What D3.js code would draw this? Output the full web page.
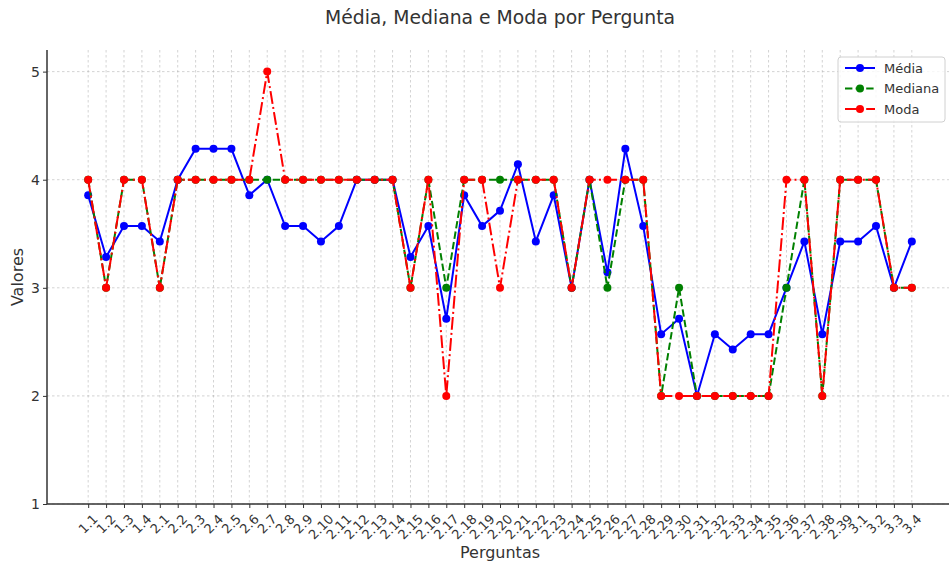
<!DOCTYPE html>
<html><head><meta charset="utf-8">
<script src="https://cdn.jsdelivr.net/npm/d3@7"></script>
<style>
html,body{margin:0;padding:0;background:#fff;}
svg{display:block;font-family:"DejaVu Sans",sans-serif;}
</style></head>
<body>
<svg id="chart" width="949" height="564"></svg>
<script>
const categories = ["1.1","1.2","1.3","1.4","2.1","2.2","2.3","2.4","2.5","2.6","2.7","2.8","2.9","2.10","2.11","2.12","2.13","2.14","2.15","2.16","2.17","2.18","2.19","2.20","2.21","2.22","2.23","2.24","2.25","2.26","2.27","2.28","2.29","2.30","2.31","2.32","2.33","2.34","2.35","2.36","2.37","2.38","2.39","3.1","3.2","3.3","3.4"];
const media = [3.857,3.286,3.571,3.571,3.429,4.0,4.286,4.286,4.286,3.857,4.0,3.571,3.571,3.429,3.571,4.0,4.0,4.0,3.286,3.571,2.714,3.857,3.571,3.714,4.143,3.429,3.857,3.0,4.0,3.143,4.286,3.571,2.571,2.714,2.0,2.571,2.429,2.571,2.571,3.0,3.429,2.571,3.429,3.429,3.571,3.0,3.429];
const mediana = [4,3,4,4,3,4,4,4,4,4,4,4,4,4,4,4,4,4,3,4,3,4,4,4,4,4,4,3,4,3,4,4,2,3,2,2,2,2,2,3,4,2,4,4,4,3,3];
const moda = [4,3,4,4,3,4,4,4,4,4,5,4,4,4,4,4,4,4,3,4,2,4,4,3,4,4,4,3,4,4,4,4,2,2,2,2,2,2,2,4,4,2,4,4,4,3,3];
const yTicks = [1,2,3,4,5];
const seriesNames = ["Média","Mediana","Moda"];

const svg = d3.select("#chart");
const L = 47, R = 953, T = 50, B = 504;
const x = d3.scalePoint().domain(categories).range([L, R]).padding(2.3);
const y = d3.scaleLinear().domain([1, 5.2]).range([B, T]);
const textColor = "#333";

svg.append("defs").append("clipPath").attr("id","clip")
  .append("rect").attr("x", L).attr("y", T-10).attr("width", R-L).attr("height", B-T+20);

// grid
const grid = svg.append("g");
grid.selectAll(".gx").data(categories).join("line")
  .attr("x1", d=>x(d)).attr("x2", d=>x(d)).attr("y1", T).attr("y2", B)
  .attr("stroke","#b0b0b0").attr("stroke-opacity",0.7).attr("stroke-width",0.8).attr("stroke-dasharray","2.5,2.5");
grid.selectAll(".gy").data(yTicks).join("line")
  .attr("x1", L).attr("x2", 949).attr("y1", d=>y(d)).attr("y2", d=>y(d))
  .attr("stroke","#b0b0b0").attr("stroke-opacity",0.7).attr("stroke-width",0.8).attr("stroke-dasharray","2.5,2.5");

// axes
const xAxis = svg.append("g").attr("transform", `translate(0,${B})`)
  .call(d3.axisBottom(x).tickSize(4).tickFormat(""));
xAxis.select(".domain").attr("stroke", textColor).attr("stroke-width",1.5).attr("d", `M${L},0H949`);
xAxis.selectAll(".tick line").attr("stroke", textColor).attr("stroke-width",1);

const yAxis = svg.append("g").attr("transform", `translate(${L},0)`)
  .call(d3.axisLeft(y).tickValues(yTicks).tickSize(4).tickFormat(d3.format("d")));
yAxis.select(".domain").attr("stroke", textColor).attr("stroke-width",1.5).attr("d", `M0,${B}V${T}`);
yAxis.selectAll(".tick line").attr("stroke", textColor).attr("stroke-width",1);
yAxis.selectAll(".tick text").attr("font-size","14px").attr("fill", textColor)
  .attr("font-family","DejaVu Sans").attr("x",-7);

// rotated x tick labels (centered on tick, like matplotlib rotation=45)
const xl = svg.append("g");
categories.forEach(c => {
  const t = xl.append("text").text(c).attr("font-size","13px").attr("fill", textColor)
    .attr("text-anchor","middle").attr("dominant-baseline","central");
  const w = t.node().getComputedTextLength();
  const h = 13;
  const off = (w + h) / (2*Math.SQRT2);
  t.attr("transform", `translate(${x(c)},${B + 8 + off}) rotate(-45)`);
});

// series
const styles = [
  {vals: media, color:"#0000ff", dash:null},
  {vals: mediana, color:"#008000", dash:"7.4,3.2"},
  {vals: moda, color:"#ff0000", dash:"12.8,3.2,2,3.2"}
];
const plot = svg.append("g").attr("clip-path","url(#clip)");
const line = d3.line().x((d,i)=>x(categories[i])).y(d=>y(d));
styles.forEach(s => {
  plot.append("path").datum(s.vals).attr("d", line).attr("fill","none")
    .attr("stroke", s.color).attr("stroke-width",2).attr("stroke-dasharray", s.dash);
  plot.append("g").selectAll("circle").data(s.vals).join("circle")
    .attr("cx",(d,i)=>x(categories[i])).attr("cy", d=>y(d)).attr("r",4).attr("fill", s.color);
});

// title and labels
svg.append("text").text("Média, Mediana e Moda por Pergunta").attr("x",(L+R)/2).attr("y",24)
  .attr("text-anchor","middle").attr("font-size","18.8px").attr("fill", textColor);
svg.append("text").text("Perguntas").attr("x",(L+R)/2).attr("y",558)
  .attr("text-anchor","middle").attr("font-size","16px").attr("fill", textColor);
svg.append("text").text("Valores").attr("transform",`translate(23,${(T+B)/2}) rotate(-90)`)
  .attr("text-anchor","middle").attr("font-size","16px").attr("fill", textColor);

// legend
const lg = svg.append("g").attr("transform","translate(838,57)");
lg.append("rect").attr("width",107).attr("height",65).attr("rx",3)
  .attr("fill","#fff").attr("fill-opacity",0.8).attr("stroke","#d0d0d0").attr("stroke-width",1);
styles.forEach((s,i) => {
  const yy = 11 + i*20.5;
  lg.append("line").attr("x1",7).attr("x2",37).attr("y1",yy).attr("y2",yy)
    .attr("stroke", s.color).attr("stroke-width",2).attr("stroke-dasharray", s.dash);
  lg.append("circle").attr("cx",22).attr("cy",yy).attr("r",4).attr("fill", s.color);
  lg.append("text").text(seriesNames[i]).attr("x",46).attr("y",yy).attr("dominant-baseline","central")
    .attr("font-size","13px").attr("fill", textColor);
});
</script>
</body></html>
